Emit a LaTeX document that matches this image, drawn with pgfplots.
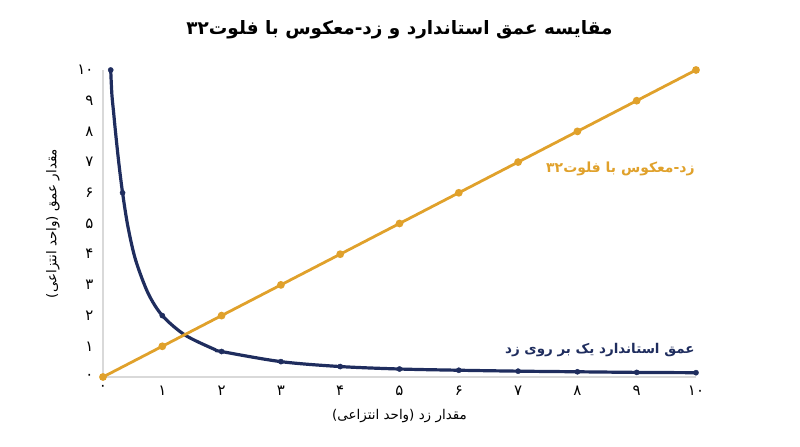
\documentclass[border=0pt]{standalone}
\usepackage{pgfplots}
\pgfplotsset{compat=1.18}
\usepackage{fontspec}
\setmainfont{DejaVu Sans}
\newfontfamily\fa[Script=Arabic]{DejaVu Sans}
\TeXXeTstate=1

\definecolor{navy}{RGB}{31,45,94}
\definecolor{gold}{RGB}{224,161,43}
\definecolor{axisgray}{RGB}{217,217,217}

\begin{document}
\begin{tikzpicture}[x=1bp,y=1bp]
\useasboundingbox (-103,-70) rectangle (697,377);
\begin{axis}[
    at={(0,0)}, anchor=south west,
    scale only axis,
    width=593bp, height=307bp,
    xmin=0, xmax=10, ymin=0, ymax=10,
    enlargelimits=false,
    clip=false,
    axis lines=left,
    axis line style={draw=axisgray, line width=1.2bp, -},
    major tick length=0pt,
    xtick={0,1,...,10},
    ytick={0,1,...,10},
    xticklabels={۰,۱,۲,۳,۴,۵,۶,۷,۸,۹,۱۰},
    yticklabels={۰,۱,۲,۳,۴,۵,۶,۷,۸,۹,۱۰},
    tick label style={font=\fa\fontsize{15}{15}\selectfont, text=black},
    xticklabel style={yshift=-5bp},
    yticklabel style={xshift=-6bp},
    every axis title/.style={at={(axis description cs:0.5,1)}, yshift=40bp, anchor=center,
        font=\fa\bfseries\fontsize{18.5}{18.5}\selectfont},
    title={\beginR مقایسه عمق استاندارد و زد-معکوس با فلوت\beginL۳۲\endL\endR},
    every axis x label/.style={at={(axis description cs:0.5,0)}, yshift=-39bp, anchor=center,
        font=\fa\fontsize{13.5}{13.5}\selectfont},
    xlabel={\beginR مقدار زد (واحد انتزاعی)\endR},
    every axis y label/.style={at={(axis description cs:0,0.5)}, xshift=-50bp, rotate=90, anchor=center,
        font=\fa\fontsize{13.5}{13.5}\selectfont},
    ylabel={\beginR مقدار عمق (واحد انتزاعی)\endR},
]

% standard depth: 1/z (line)
\addplot[navy, line width=3.2bp, smooth, no marks] coordinates {
    (0.13,10) (0.15,9.2) (0.18,8.6) (0.21,8.0) (0.265,7.0) (0.33,6) (0.42,4.9)
    (0.55,3.81) (0.76,2.73) (1,2) (1.38,1.37) (1.88,0.9) (2,0.83)
    (3,0.5) (4,0.34) (5,0.26) (6,0.22) (7,0.19) (8,0.17) (9,0.15) (10,0.14)
};
% standard depth markers
\addplot[only marks, mark=*, mark size=2.6bp, navy] coordinates {
    (0.13,10) (0.33,6) (1,2) (2,0.83) (3,0.5) (4,0.34) (5,0.26)
    (6,0.22) (7,0.19) (8,0.17) (9,0.15) (10,0.14)
};

% reversed z with float32
\addplot[gold, line width=2.8bp, mark=*, mark size=2.4bp, mark options={fill=gold, draw=gold}] coordinates {
    (0,0) (1,1) (2,2) (3,3) (4,4) (5,5) (6,6) (7,7) (8,8) (9,9) (10,10)
};

\node[anchor=east, inner sep=0pt, text=gold, font=\fa\bfseries\fontsize{14}{14}\selectfont]
    at (axis cs:9.98,6.78) {\beginR زد-معکوس با فلوت\beginL۳۲\endL\endR};
\node[anchor=east, inner sep=0pt, text=navy, font=\fa\bfseries\fontsize{13.5}{13.5}\selectfont]
    at (axis cs:9.98,0.88) {\beginR عمق استاندارد یک بر روی زد\endR};
\end{axis}
\end{tikzpicture}
\end{document}
